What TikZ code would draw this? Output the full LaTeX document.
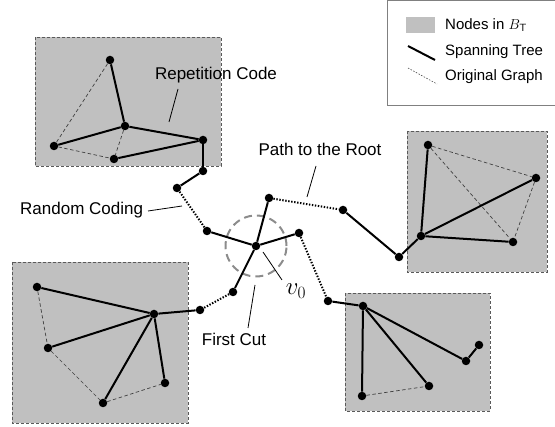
\documentclass[tikz,border=0pt]{standalone}
\usepackage{fontspec}
\setmainfont{Liberation Sans}
\begin{document}
\begin{tikzpicture}[x=1pt,y=-1pt,
  dot/.style={circle,fill=black,inner sep=0pt,minimum size=8.5pt},
  region/.style={fill=boxgray,draw=black!65,dash pattern=on 3pt off 2pt,line width=0.8pt},
  tree/.style={line width=2pt,black},
  orig/.style={line width=0.7pt,black!75,dash pattern=on 3.5pt off 2.5pt},
  pathedge/.style={line width=2pt,black,dash pattern=on 1.4pt off 1.6pt},
  leader/.style={line width=0.8pt,black},
  lbl/.style={font=\fontsize{17}{17}\selectfont,inner sep=0pt},
  leg/.style={font=\fontsize{15}{15}\selectfont,inner sep=0pt,anchor=west}]
\definecolor{boxgray}{RGB}{192,192,192}
\useasboundingbox (0,0) rectangle (555,427);

% legend
\draw[black!50,line width=0.9pt] (387,0.5) rectangle (558,105);
\node[fill=boxgray,minimum width=29pt,minimum height=16pt,inner sep=0pt] (lgbox) at (420.5,25) {};
\node[leg] (lgt1) at (445,25) {Nodes in $B_{\mathsf{T}}$};
\coordinate (lgs1) at (408,46); \coordinate (lgs2) at (435,60);
\draw[tree] (lgs1) -- (lgs2);
\node[leg] (lgt2) at (445,52) {Spanning Tree};
\coordinate (lgo1) at (408,68); \coordinate (lgo2) at (437,84);
\draw[line width=0.6pt,black!70,dash pattern=on 1.5pt off 1.5pt] (lgo1) -- (lgo2);
\node[leg] (lgt3) at (445,77) {Original Graph};

% regions
\draw[region] (35,37) rectangle (221,166);
\draw[region] (407,131) rectangle (547,272);
\draw[region] (12,262) rectangle (188,423);
\draw[region] (345,293) rectangle (490,411);

% top-left cluster
\node[dot] (a1) at (110,60) {};
\node[dot] (a2) at (125,126) {};
\node[dot] (a3) at (54,146) {};
\node[dot] (a4) at (114,159) {};
\node[dot] (a5) at (203,140) {};
\node[dot] (a6) at (203,171) {};
\node[dot] (a7) at (177,188) {};
\draw[orig] (a1) -- (a3);
\draw[orig] (a3) -- (a4);
\draw[orig] (a2) -- (a4);
\draw[tree] (a1) -- (a2);
\draw[tree] (a2) -- (a3);
\draw[tree] (a2) -- (a5);
\draw[tree] (a4) -- (a5);
\draw[tree] (a5) -- (a6);
\draw[tree] (a6) -- (a7);

% centre
\node[dot] (v0) at (256,246) {};
\node[dot] (cu) at (269,198) {};
\node[dot] (cl) at (207,231) {};
\node[dot] (cr) at (299,233) {};
\node[dot] (cd) at (233,292) {};
\node[circle,draw=black!45,dash pattern=on 8pt off 5pt,line width=2pt,minimum size=61pt,inner sep=0pt] (cut) at (256,246) {};
\draw[tree] (v0) -- (cu);
\draw[tree] (v0) -- (cl);
\draw[tree] (v0) -- (cr);
\draw[tree] (v0) -- (cd);
\draw[pathedge] (cl) -- (a7);

% path to root / right cluster
\node[dot] (p1) at (343,210) {};
\node[dot] (r0) at (399,257) {};
\node[dot] (r1) at (428,145) {};
\node[dot] (r2) at (536,178) {};
\node[dot] (r3) at (421,236) {};
\node[dot] (r4) at (513,242) {};
\draw[pathedge] (cu) -- (p1);
\draw[tree] (p1) -- (r0);
\draw[tree] (r0) -- (r3);
\draw[orig] (r1) -- (r2);
\draw[orig] (r1) -- (r4);
\draw[orig] (r2) -- (r4);
\draw[tree] (r1) -- (r3);
\draw[tree] (r3) -- (r2);
\draw[tree] (r3) -- (r4);

% bottom-right cluster
\node[dot] (s0) at (328,301) {};
\node[dot] (s1) at (363,306) {};
\node[dot] (s2) at (362,396) {};
\node[dot] (s3) at (429,386) {};
\node[dot] (s4) at (466,361) {};
\node[dot] (s5) at (479,345) {};
\draw[pathedge] (cr) -- (s0);
\draw[orig] (s2) -- (s3);
\draw[tree] (s0) -- (s1);
\draw[tree] (s1) -- (s2);
\draw[tree] (s1) -- (s3);
\draw[tree] (s1) -- (s4);
\draw[tree] (s4) -- (s5);

% bottom-left cluster
\node[dot] (l0) at (200,310) {};
\node[dot] (l1) at (37,287) {};
\node[dot] (l2) at (154,314) {};
\node[dot] (l3) at (48,348) {};
\node[dot] (l4) at (103,403) {};
\node[dot] (l5) at (165,383) {};
\draw[pathedge] (cd) -- (l0);
\draw[orig] (l1) -- (l3);
\draw[orig] (l3) -- (l4);
\draw[orig] (l4) -- (l5);
\draw[tree] (l0) -- (l2);
\draw[tree] (l1) -- (l2);
\draw[tree] (l2) -- (l3);
\draw[tree] (l2) -- (l4);
\draw[tree] (l2) -- (l5);

% labels
\node[lbl] (trep) at (216,75) {Repetition Code};
\coordinate (rep1) at (178,89); \coordinate (rep2) at (169,122);
\draw[leader] (rep1) -- (rep2);
\node[lbl,anchor=west] (trand) at (20,210) {Random Coding};
\coordinate (ran1) at (148,211); \coordinate (ran2) at (182,206);
\draw[leader] (ran1) -- (ran2);
\node[lbl] (troot) at (320,149) {Path to the Root};
\coordinate (rt1) at (316,166); \coordinate (rt2) at (307,197);
\draw[leader] (rt1) -- (rt2);
\node[lbl] (tcut) at (234,339) {First Cut};
\coordinate (fc1) at (255,285); \coordinate (fc2) at (248,328);
\draw[leader] (fc1) -- (fc2);
\node[inner sep=0pt,font=\fontsize{23}{23}\selectfont] (tv0) at (296,291) {$v_0$};
\coordinate (vl1) at (263,252); \coordinate (vl2) at (282,280);
\draw[leader] (vl1) -- (vl2);
\end{tikzpicture}
\end{document}
